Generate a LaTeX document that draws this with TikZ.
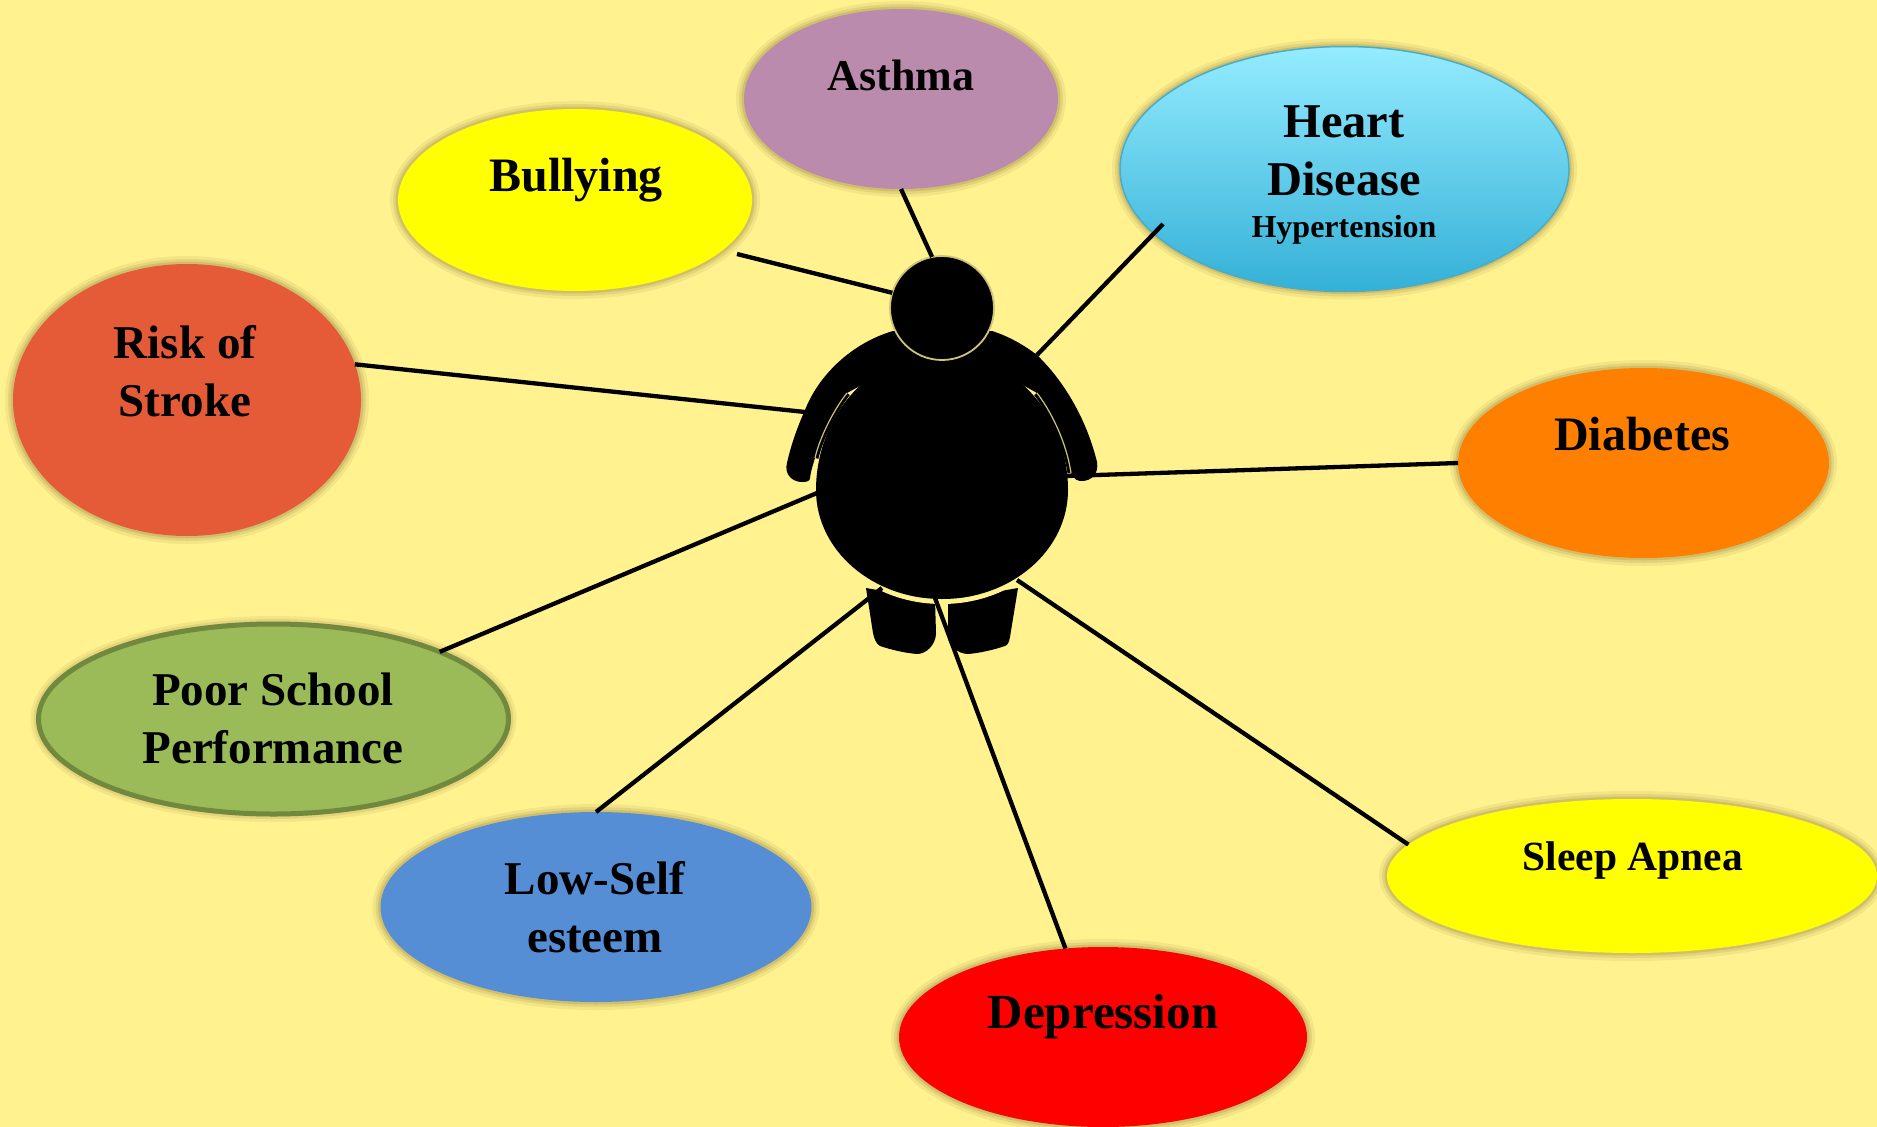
\documentclass[tikz,border=0pt]{standalone}
\usepackage{fontspec}
\setmainfont{Liberation Serif}
\usetikzlibrary{shapes.geometric}
\definecolor{paper}{RGB}{255,242,143}
\definecolor{gapline}{RGB}{205,196,120}
\definecolor{shadowtone}{RGB}{90,70,20}
\definecolor{pureyellow}{RGB}{255,255,0}
\begin{document}
\begin{tikzpicture}[
  x=1pt, y=-1pt,
  oval/.style={ellipse, inner sep=0pt, outer sep=0pt,
    preaction={draw=shadowtone, draw opacity=0.07, line width=16pt},
    preaction={draw=shadowtone, draw opacity=0.10, line width=10pt},
    preaction={draw=shadowtone, draw opacity=0.14, line width=5pt}},
  txt/.style={align=center, inner sep=0pt, font=\bfseries\fontsize{47}{58}\selectfont},
  link/.style={draw=black, line width=4.3pt},
  figure/.style={fill=black, draw=none},
  armgap/.style={draw=gapline, line width=1.2pt, preaction={draw=black, line width=7pt}}
]
\clip (0,0) rectangle (1877,1127);
\fill[paper] (0,0) rectangle (1877,1127);
\node[oval, fill={rgb,255:red,187;green,139;blue,173}, minimum width=314pt, minimum height=180pt] (asthma) at (901,99) {};
\node[oval, fill=pureyellow, minimum width=354pt, minimum height=182pt] (bullying) at (575,200) {};
\node[oval, top color={rgb,255:red,148;green,236;blue,255}, bottom color={rgb,255:red,52;green,176;blue,215}, draw={rgb,255:red,75;green,172;blue,198}, line width=1.5pt, minimum width=449pt, minimum height=245pt] (heart) at (1344.5,169) {};
\node[oval, fill={rgb,255:red,229;green,91;blue,55}, minimum width=348pt, minimum height=272pt] (risk) at (187,400) {};
\node[oval, fill={rgb,255:red,255;green,128;blue,0}, minimum width=371pt, minimum height=190pt] (diabetes) at (1643.5,463) {};
\node[oval, fill={rgb,255:red,155;green,187;blue,89}, draw={rgb,255:red,113;green,137;blue,63}, line width=5pt, minimum width=470pt, minimum height=190pt] (poor) at (273.5,719) {};
\node[oval, fill={rgb,255:red,85;green,142;blue,213}, minimum width=431pt, minimum height=190pt] (low) at (596,907) {};
\node[oval, fill=red, minimum width=408pt, minimum height=180pt] (depression) at (1103,1037) {};
\node[oval, fill=pureyellow, minimum width=490pt, minimum height=154pt] (sleep) at (1632,876) {};

\node[txt, font=\bfseries\fontsize{44}{58}\selectfont] (asthmaText) at (901,75) {Asthma};
\node[txt, font=\bfseries\fontsize{48}{58}\selectfont] (bullyingText) at (576,180) {Bullying};
\node[txt, font=\bfseries\fontsize{48.5}{58}\selectfont] (heartText) at (1344,151) {Heart\\Disease};
\node[txt, font=\bfseries\fontsize{32}{38}\selectfont] (hyperText) at (1344,230) {Hypertension};
\node[txt] (riskText) at (185,371) {Risk of\\Stroke};
\node[txt, font=\bfseries\fontsize{48}{58}\selectfont] (diabetesText) at (1642,434) {Diabetes};
\node[txt] (poorText) at (273,718) {Poor School\\Performance};
\node[txt] (lowText) at (595,907) {Low-Self\\esteem};
\node[txt, font=\bfseries\fontsize{49}{58}\selectfont] (depressionText) at (1103,1017) {Depression};
\node[txt, font=\bfseries\fontsize{41.5}{58}\selectfont] (sleepText) at (1633,861) {Sleep Apnea};

\fill[figure] (866,588) -- (935,600) -- (936,633) .. controls (936,645) and (926,654) .. (917,654)
  .. controls (905,653) and (892,650) .. (880,646) .. controls (876,644) and (874,638) .. (873,633) -- cycle;
\fill[figure] (948,600) -- (1018,588) -- (1010,637) .. controls (1009,642) and (1008,645) .. (1005,646)
  .. controls (993,650) and (980,653) .. (968,654) .. controls (958,654) and (948,645) .. (948,637) -- cycle;
\draw[paper, line width=5pt] (816,490) .. controls (816,552) and (871,601.5) .. (942,601.5)
  .. controls (1013,601.5) and (1068,552) .. (1068,490);
\fill[figure] (816,490) .. controls (816,550) and (872,599) .. (942,599)
  .. controls (1012,599) and (1068,550) .. (1068,490) .. controls (1068,425) and (1024,355) .. (942,355)
  .. controls (860,355) and (816,425) .. (816,490) -- cycle;
\fill[figure] (893,331) .. controls (855,342) and (820,372) .. (805,410) .. controls (797,428) and (791,445) .. (787,463)
  .. controls (784,474) and (792,482) .. (802,482) .. controls (807,482) and (810,481) .. (810,478)
  .. controls (811,470) and (813,465) .. (815,458) .. controls (819,440) and (832,412) .. (847,393) -- (880,375) -- (1005,375) -- (1037,393)
  .. controls (1050,410) and (1066,440) .. (1071,473) .. controls (1074,480) and (1078,481) .. (1082,481)
  .. controls (1091,481) and (1099,474) .. (1097,462) .. controls (1088,425) and (1068,385) .. (1037,355)
  .. controls (1024,345) and (1008,336) .. (992,331) -- cycle;
\path[armgap] (815,458) .. controls (819,440) and (832,412) .. (847,393);
\path[armgap] (1037,393) .. controls (1050,410) and (1066,440) .. (1071,473);
\node[circle, fill=black, draw=gapline, line width=1.8pt, inner sep=0pt, outer sep=0pt, minimum size=104pt] (head) at (942,308) {};

\coordinate (bullyingEnd) at (737,254);
\coordinate (heartEnd) at (1163,224);
\coordinate (bodyHeart) at (1037,355);
\coordinate (bodyRisk) at (805,412);
\coordinate (bodyDiabetes) at (1067,476);
\coordinate (bodyPoor) at (817,493);
\coordinate (bodyLow) at (882,588);
\coordinate (bodyDepression) at (935,598);
\coordinate (bodySleep) at (1017,580);
\foreach \a/\b in {asthma.south/head.101, bullyingEnd/head.163, heartEnd/bodyHeart, risk.12/bodyRisk, diabetes.west/bodyDiabetes, poor.22/bodyPoor, low.north/bodyLow, depression.113/bodyDepression, sleep.172.5/bodySleep}
  \draw[link] (\a) -- (\b);
\end{tikzpicture}
\end{document}
